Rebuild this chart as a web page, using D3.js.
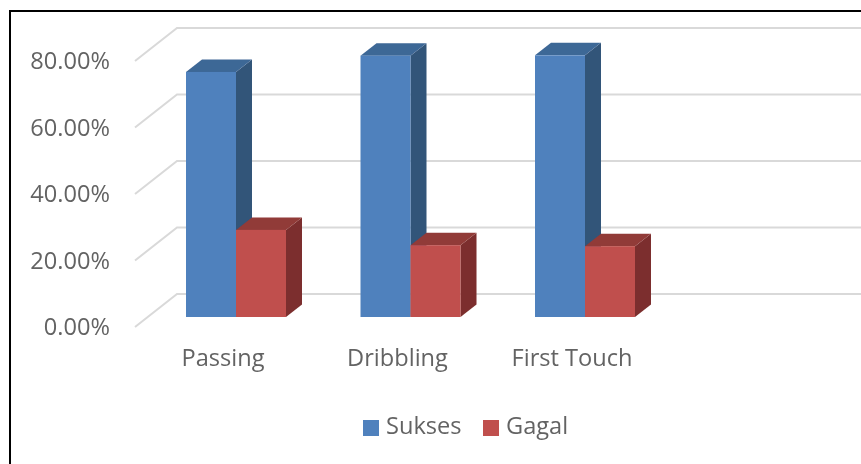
<!DOCTYPE html>
<html>
<head>
<meta charset="utf-8">
<script src="https://cdn.jsdelivr.net/npm/d3@7"></script>
<style>
  html, body { margin: 0; padding: 0; background: #fff; overflow: hidden; }
  text { font-family: "Open Sans", sans-serif; fill: #636363; }
</style>
</head>
<body>
<div class="chart"></div>
<script>
const categories = ["Passing", "Dribbling", "First Touch"]
const sukses = [73.7, 78.6, 78.7]
const gagal = [26.2, 21.6, 21.3]
const yTicks = [0, 20, 40, 60, 80]

const width = 861
const height = 464
const fontSize = 23.6

// depth of the fake 3d box
const barDepth = { x: 16, y: -12.5 }
const wall = { front: 135, back: 177, frontDy: 10, backDy: -23 }

const svg = d3.select(".chart")
    .append("svg")
    .attr("width", width)
    .attr("height", height)
    .style("display", "block")

// the reference is a slightly soft screenshot
svg.append("filter")
    .attr("id", "soft")
    .append("feGaussianBlur")
    .attr("stdDeviation", 0.7)

const root = svg.append("g").attr("filter", "url(#soft)")

const xScale = d3.scaleBand()
    .domain(categories)
    .range([148.75, 672.25])

const yScale = d3.scaleLinear()
    .domain([0, 80])
    .range([317, 51])

// gridlines: diagonal on the side wall, then flat along the back
root.selectAll(".grid")
    .data(yTicks)
    .join("polyline")
    .attr("class", "grid")
    .attr("fill", "none")
    .attr("stroke", "#d9d9d9")
    .attr("stroke-width", 2)
    .attr("points", d => [
        [wall.front, yScale(d) + wall.frontDy],
        [wall.back, yScale(d) + wall.backDy],
        [width, yScale(d) + wall.backDy]
    ].join(" "))

// tick labels
root.selectAll(".tick")
    .data(yTicks)
    .join("text")
    .attr("class", "tick")
    .attr("x", 110)
    .attr("y", d => yScale(d) + wall.frontDy)
    .attr("dy", "0.35em")
    .attr("text-anchor", "end")
    .attr("font-size", fontSize)
    .text(d => d.toFixed(2) + "%")

const barWidth = 50

function drawBar(group, x, value, colors) {
    const top = yScale(value)
    const bottom = yScale(0)
    const r = x + barWidth
    const dx = barDepth.x
    const dy = barDepth.y
    group.append("polygon")
        .attr("fill", colors.side)
        .attr("points", [[r, top], [r + dx, top + dy], [r + dx, bottom + dy], [r, bottom]].join(" "))
    group.append("polygon")
        .attr("fill", colors.top)
        .attr("points", [[x, top], [x + dx, top + dy], [r + dx, top + dy], [r, top]].join(" "))
    group.append("rect")
        .attr("x", x)
        .attr("y", top)
        .attr("width", barWidth)
        .attr("height", bottom - top)
        .attr("fill", colors.front)
}

const blue = { front: "#4f81bd", top: "#3e6796", side: "#325479" }
const red = { front: "#c0504d", top: "#913a38", side: "#7c2f2d" }

categories.forEach((c, i) => {
    const center = xScale(c) + xScale.bandwidth() / 2
    const g = root.append("g")
    drawBar(g, center - barWidth, sukses[i], blue)
    drawBar(g, center, gagal[i], red)
    root.append("text")
        .attr("x", center - 13)
        .attr("y", 366)
        .attr("text-anchor", "middle")
        .attr("font-size", fontSize)
        .text(c)
})

// legend
const legendItems = [
    { name: "Sukses", color: blue.front, x: 363, tx: 386 },
    { name: "Gagal", color: red.front, x: 483, tx: 506 }
]
legendItems.forEach(d => {
    root.append("rect")
        .attr("x", d.x).attr("y", 420)
        .attr("width", 16).attr("height", 16)
        .attr("fill", d.color)
    root.append("text")
        .attr("x", d.tx).attr("y", 434)
        .attr("font-size", fontSize)
        .text(d.name)
})

// outer frame, runs off the right and bottom of the picture
svg.append("path")
    .attr("d", `M10,${height} V11 H${width}`)
    .attr("fill", "none")
    .attr("stroke", "#000")
    .attr("stroke-width", 2)
</script>
</body>
</html>
